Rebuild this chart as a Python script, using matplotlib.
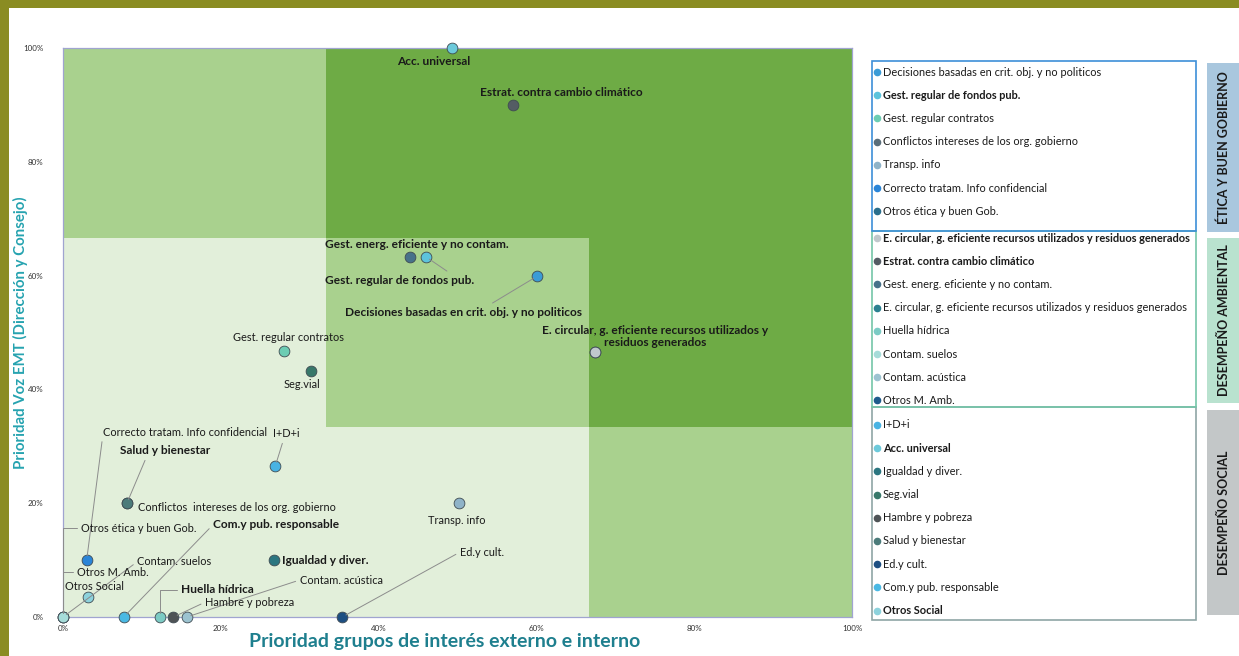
import matplotlib.pyplot as plt
from matplotlib.patches import Rectangle
from matplotlib.ticker import PercentFormatter

plt.rcParams['font.family'] = ['Lato', 'DejaVu Sans']

# --- data (percent) ---
group_titles = ["ÉTICA Y BUEN GOBIERNO", "DESEMPEÑO AMBIENTAL", "DESEMPEÑO SOCIAL"]

names_etica = ["Decisiones basadas en crit. obj. y no politicos", "Gest. regular de fondos pub.",
               "Gest. regular contratos", "Conflictos intereses de los org. gobierno", "Transp. info",
               "Correcto tratam. Info confidencial", "Otros ética y buen Gob."]
x_etica = [60.1, 46.0, 28.0, 8.1, 50.2, 3.0, 0.0]
y_etica = [59.9, 63.3, 46.7, 20.0, 20.0, 10.0, 0.0]

names_amb = ["E. circular, g. eficiente recursos utilizados y residuos generados",
             "Estrat. contra cambio climático", "Gest. energ. eficiente y no contam.",
             "E. circular, g. eficiente recursos utilizados y residuos generados ",
             "Huella hídrica", "Contam. suelos", "Contam. acústica", "Otros M. Amb."]
x_amb = [67.4, 57.0, 44.0, 67.4, 12.3, 0.0, 15.7, 0.0]
y_amb = [46.6, 90.0, 63.3, 46.6, 0.0, 0.0, 0.0, 0.0]

names_soc = ["I+D+i", "Acc. universal", "Igualdad y diver.", "Seg.vial", "Hambre y pobreza",
             "Salud y bienestar", "Ed.y cult.", "Com.y pub. responsable", "Otros Social"]
x_soc = [26.9, 49.3, 26.7, 31.4, 14.0, 8.1, 35.4, 7.7, 3.2]
y_soc = [26.5, 100.0, 10.0, 43.2, 0.0, 20.0, 0.0, 0.0, 3.5]

colors_etica = ["#3b9bd6", "#5cc3dc", "#6ccdb3", "#5a6e7a", "#8fb3c8", "#2a85d8", "#2a6e8c"]
colors_amb = ["#c0c8cc", "#545c64", "#47718a", "#2b8090", "#7ccbc4", "#a6dcd9", "#9cc3d0", "#1f5b8c"]
colors_soc = ["#49b3e3", "#6ccadb", "#2b7680", "#38786a", "#4e5356", "#4b7b7a", "#1d4f82", "#4ab9e4", "#8dd2dc"]

legend_bold = {"Gest. regular de fondos pub.", "E. circular, g. eficiente recursos utilizados y residuos generados",
               "Estrat. contra cambio climático", "Acc. universal", "Otros Social"}

# points hidden under another one at the same spot
underneath = {"E. circular, g. eficiente recursos utilizados y residuos generados ", "Otros ética y buen Gob.",
              "Otros M. Amb."}

# label placement: text, x, y, ha, relpos of leader (None = no leader), connection, bold
ELBOW = "angle,angleA=0,angleB=90,rad=0"
labels = {
    "Acc. universal": ("Acc. universal", 47.0, 97.6, 'center', None, None, True),
    "Estrat. contra cambio climático": ("Estrat. contra cambio climático", 63.1, 92.2, 'center', None, None, True),
    "Gest. energ. eficiente y no contam.": ("Gest. energ. eficiente y no contam.", 44.9, 65.4, 'center', None, None, True),
    "Gest. regular de fondos pub.": ("Gest. regular de fondos pub.", 42.7, 59.2, 'center', (0.85, 1), None, True),
    "Decisiones basadas en crit. obj. y no politicos": ("Decisiones basadas en crit. obj. y no politicos", 50.7, 53.6, 'center', (0.6, 1), None, True),
    "E. circular, g. eficiente recursos utilizados y residuos generados": ("E. circular, g. eficiente recursos utilizados y\nresiduos generados", 75.0, 49.3, 'center', None, None, True),
    "Gest. regular contratos": ("Gest. regular contratos", 28.6, 49.2, 'center', None, None, False),
    "Seg.vial": ("Seg.vial", 30.3, 40.8, 'center', None, None, False),
    "I+D+i": ("I+D+i", 28.3, 32.2, 'center', (0.4, 0), None, False),
    "Transp. info": ("Transp. info", 49.9, 16.9, 'center', None, None, False),
    "Conflictos intereses de los org. gobierno": ("Conflictos  intereses de los org. gobierno", 9.5, 19.3, 'left', None, None, False),
    "Salud y bienestar": ("Salud y bienestar", 12.9, 29.2, 'center', (0.3, 0), None, True),
    "Correcto tratam. Info confidencial": ("Correcto tratam. Info confidencial", 5.1, 32.5, 'left', (0, 0.5), None, False),
    "Otros ética y buen Gob.": ("Otros ética y buen Gob.", 2.3, 15.6, 'left', (0, 0.5), ELBOW, False),
    "Otros M. Amb.": ("Otros M. Amb.", 1.8, 7.9, 'left', (0, 0.5), ELBOW, False),
    "Otros Social": ("Otros Social", 4.0, 5.4, 'center', None, None, False),
    "Contam. suelos": ("Contam. suelos", 9.4, 9.7, 'left', (0, 0.5), None, False),
    "Com.y pub. responsable": ("Com.y pub. responsable", 19.0, 16.2, 'left', (0, 0.5), None, True),
    "Huella hídrica": ("Huella hídrica", 15.0, 4.8, 'left', (0, 0.5), ELBOW, True),
    "Hambre y pobreza": ("Hambre y pobreza", 18.0, 2.6, 'left', (0, 0.5), None, False),
    "Contam. acústica": ("Contam. acústica", 30.0, 6.5, 'left', (0, 0.5), None, False),
    "Ed.y cult.": ("Ed.y cult.", 50.3, 11.4, 'left', (0, 0.5), None, False),
    "Igualdad y diver.": ("Igualdad y diver.", 27.8, 10.0, 'left', None, None, True),
}

# background zones (thirds), level 0 = lightest
zone_edges = [0, 100 / 3, 200 / 3, 100]
zone_levels = [[0, 0, 1],   # bottom row
               [0, 1, 2],   # middle row
               [1, 2, 2]]   # top row
zone_colors = ["#e2efda", "#a9d18e", "#6eab45"]

W, H = 1239, 656
fig = plt.figure(figsize=(W / 100, H / 100), dpi=100)

# overlay for frame, legend boxes and side tabs (pixel coords)
bg = fig.add_axes([0, 0, 1, 1])
bg.set_xlim(0, W)
bg.set_ylim(H, 0)
bg.axis('off')
bg.add_patch(Rectangle((0, 0), W, 8, color="#8a8c22", lw=0))
bg.add_patch(Rectangle((0, 0), 9, H, color="#8a8c22", lw=0))

boxes = [(61, 231, "#3d8fd8", "#a9c7de"), (231, 407, "#74c6a8", "#b9e2cf"), (407, 620, "#8fa5a5", "#c3c7c8")]
tabs = [(63, 232), (238, 403), (410, 615)]
groups = [(names_etica, colors_etica), (names_amb, colors_amb), (names_soc, colors_soc)]
first_row = [72, 238, 425]
for i, (top, bot, edge, tabc) in enumerate(boxes):
    bg.add_patch(Rectangle((872, top), 324, bot - top, fill=False, ec=edge, lw=1.2, zorder=3 - i * 0.1))
    t0, t1 = tabs[i]
    bg.add_patch(Rectangle((1207, t0), 40, t1 - t0, color=tabc, lw=0))
    bg.text(1224, (t0 + t1) / 2, group_titles[i], rotation=90, ha='center', va='center',
            fontsize=9.0, fontweight='bold', color="#1a1a1a")
    names, cols = groups[i]
    for j, (nm, c) in enumerate(zip(names, cols)):
        yy = first_row[i] + j * 23.2
        bg.scatter([877], [yy], s=20, color=c, zorder=4)
        bg.text(883, yy, nm.strip(), ha='left', va='center', fontsize=7.9, color="#1a1a1a",
                fontweight='bold' if nm in legend_bold else 'normal')

# main chart
ax = fig.add_axes([63 / W, 1 - 617 / H, 789 / W, 569 / H])
ax.set_xlim(0, 100)
ax.set_ylim(0, 100)
for r in range(3):
    for c in range(3):
        ax.add_patch(Rectangle((zone_edges[c], zone_edges[r]), zone_edges[c + 1] - zone_edges[c],
                               zone_edges[r + 1] - zone_edges[r], color=zone_colors[zone_levels[r][c]],
                               lw=0, zorder=0))

all_names = names_etica + names_amb + names_soc
all_x = x_etica + x_amb + x_soc
all_y = y_etica + y_amb + y_soc
all_c = colors_etica + colors_amb + colors_soc
for nm, xv, yv, c in zip(all_names, all_x, all_y, all_c):
    ax.scatter([xv], [yv], s=60, color=c, edgecolor="#3f4b52", linewidth=0.6,
               zorder=4.5 if nm in underneath else 5, clip_on=False)

for nm, xv, yv in zip(all_names, all_x, all_y):
    if nm not in labels:
        continue
    txt, tx, ty, ha, relpos, conn, bold = labels[nm]
    kw = dict(ha=ha, va='center', fontsize=8.6 if bold else 7.9, color="#1a1a1a", zorder=6,
              fontweight='bold' if bold else 'normal', multialignment='center')
    if relpos is not None:
        ap = dict(arrowstyle='-', color="#8c8c8c", lw=0.7, shrinkA=1, shrinkB=3, relpos=relpos)
        if conn:
            ap['connectionstyle'] = conn
        ax.annotate(txt, xy=(xv, yv), xytext=(tx, ty), arrowprops=ap, **kw)
    else:
        ax.text(tx, ty, txt, **kw)

ax.set_xticks([0, 20, 40, 60, 80, 100])
ax.set_yticks([0, 20, 40, 60, 80, 100])
ax.xaxis.set_major_formatter(PercentFormatter(decimals=0))
ax.yaxis.set_major_formatter(PercentFormatter(decimals=0))
ax.tick_params(axis='x', length=0, labelsize=5.8, labelcolor="#333333", pad=6)
ax.tick_params(axis='y', length=0, labelsize=5.8, labelcolor="#333333", pad=14)
for s in ax.spines.values():
    s.set_color("#a0a4d0")
    s.set_linewidth(0.9)

ax.set_xlabel("Prioridad grupos de interés externo e interno", fontsize=14, fontweight='bold',
              color="#1e7f8e")
ax.xaxis.set_label_coords((445 - 63) / 789, -16 / 569)
ax.set_ylabel("Prioridad Voz EMT (Dirección y Consejo)", fontsize=10.8, fontweight='bold',
              color="#26a3b0")
ax.yaxis.set_label_coords(-35 / 789, 0.5)

fig.savefig("out.png", dpi=100)
